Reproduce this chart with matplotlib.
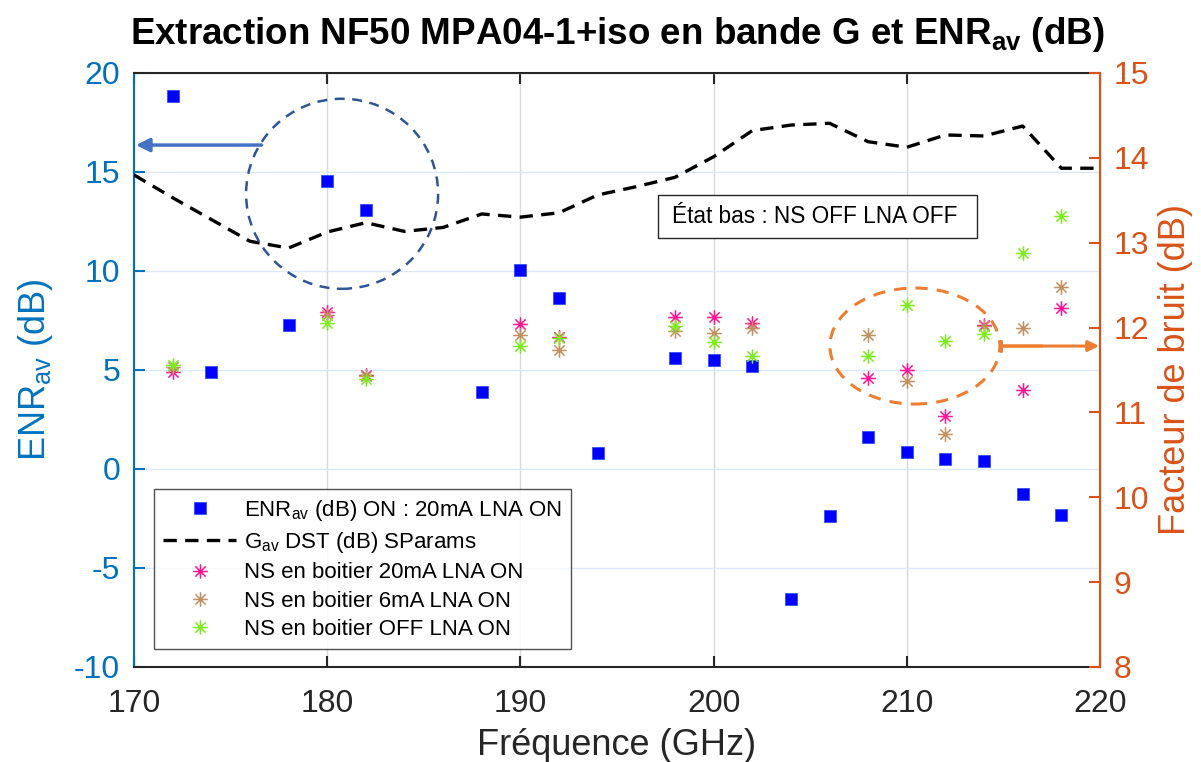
import numpy as np
import matplotlib
matplotlib.use('Agg')
import matplotlib.pyplot as plt
from matplotlib.path import Path
from matplotlib.patches import Ellipse, Rectangle

plt.rcParams['font.family'] = ['Liberation Sans', 'DejaVu Sans']
plt.rcParams['mathtext.fontset'] = 'custom'
plt.rcParams['mathtext.rm'] = 'Liberation Sans'
plt.rcParams['mathtext.it'] = 'Liberation Sans'
plt.rcParams['mathtext.bf'] = 'Liberation Sans:bold'
plt.rcParams['axes.unicode_minus'] = False

# ENR mesuré (axe gauche)
freq_enr = np.array([172, 174, 178, 180, 182, 188, 190, 192, 194, 198, 200, 202,
                     204, 206, 208, 210, 212, 214, 216, 218])
enr = np.array([18.85, 4.91, 7.27, 14.56, 13.08, 3.87, 10.07, 8.65, 0.82, 5.61, 5.52, 5.22,
                -6.55, -2.36, 1.63, 0.86, 0.51, 0.40, -1.26, -2.31])

# Gain disponible DST (axe gauche)
freq_gav = np.arange(170, 221, 2)
gav = np.array([14.85, 13.7, 12.6, 11.5, 11.16, 11.97, 12.44, 12.0, 12.2, 12.88, 12.72, 12.94,
                13.84, 14.26, 14.73, 15.77, 17.09, 17.37, 17.46, 16.53, 16.25, 16.87, 16.82,
                17.32, 15.19, 15.19])

# Facteur de bruit NS en boitier (axe droit)
freq_ns = np.array([172, 180, 182, 190, 192, 198, 200, 202, 208, 210, 212, 214, 216, 218])
nf_20ma = np.array([11.48, 12.18, 11.44, 12.04, 11.89, 12.13, 12.13, 12.05, 11.40, 11.50, 10.96,
                    12.03, 11.26, 12.23])
nf_6ma = np.array([11.54, 12.15, 11.43, 11.91, 11.74, 11.96, 11.94, 11.99, 11.91, 11.37, 10.74,
                   12.02, 12.00, 12.48])
nf_off = np.array([11.56, 12.05, 11.39, 11.78, 11.88, 12.02, 11.83, 11.66, 11.67, 12.27, 11.84,
                   11.92, 12.88, 13.31])

c_left = '#0072BD'
c_right = '#D95319'

# marqueur asterisque style MATLAB (+ et x superposes)
a = np.cos(np.pi / 4)
verts = [(-1, 0), (1, 0), (0, -1), (0, 1), (-a, -a), (a, a), (-a, a), (a, -a)]
codes = [Path.MOVETO, Path.LINETO] * 4
asterisk = Path(verts, codes)

fig = plt.figure(figsize=(12.01, 7.62), dpi=100)
ax = fig.add_axes([0.1116, 0.1247, 0.8043, 0.7795])
ax2 = ax.twinx()

ax.set_xlim(170, 220)
ax.set_ylim(-10, 20)
ax2.set_ylim(8, 15)

ax.grid(True, axis='x', color='#d9d9d9', lw=1)
ax.grid(True, axis='y', color='#dce9f5', lw=1)
ax.set_axisbelow(True)

h1, = ax.plot(freq_enr, enr, 's', color='#0000FF', ms=9, mec='#3050ff', mew=0.6,
              ls='none', label='ENR$_{av}$ (dB) ON : 20mA LNA ON', zorder=3)
h2, = ax.plot(freq_gav, gav, color='black', lw=2.4, dashes=(4, 2.5),
              label='G$_{av}$ DST (dB) SParams', zorder=3)

h3, = ax2.plot(freq_ns, nf_20ma, ls='none', marker=asterisk, ms=10.5, mew=1.1,
               color='#FF1493', label='NS en boitier 20mA LNA ON')
h4, = ax2.plot(freq_ns, nf_6ma, ls='none', marker=asterisk, ms=10.5, mew=1.1,
               color='#C09060', label='NS en boitier 6mA LNA ON')
h5, = ax2.plot(freq_ns, nf_off, ls='none', marker=asterisk, ms=10.5, mew=1.1,
               color='#7CEB1C', label='NS en boitier OFF LNA ON')

# annotations : cercles et fleches
ax.add_patch(Ellipse((180.77, 13.9), 9.94, 9.6, fill=False, ec='#2F5597', lw=1.8,
                     ls=(0, (4, 3)), zorder=4))
ax.annotate('', xy=(170.1, 16.36), xytext=(176.6, 16.36),
            arrowprops=dict(arrowstyle='-|>', color='#4472C4', lw=2.5, mutation_scale=20,
                            shrinkA=0, shrinkB=0), zorder=4)
ax.add_patch(Ellipse((210.42, 6.21), 8.8, 5.86, fill=False, ec='#ED7D31', lw=2.2,
                     ls=(0, (4, 3)), zorder=4))
ax.annotate('', xy=(219.95, 6.21), xytext=(214.9, 6.21),
            arrowprops=dict(arrowstyle='-|>', color='#ED7D31', lw=2.2, mutation_scale=16,
                            shrinkA=0, shrinkB=0), zorder=4)
ax.annotate('', xy=(217.0, 6.21), xytext=(214.9, 6.21),
            arrowprops=dict(arrowstyle='|-|, widthA=0.35, widthB=0.0', color='#ED7D31', lw=2.2,
                            shrinkA=0, shrinkB=0), zorder=4)

# encadre etat bas
ax.add_patch(Rectangle((0.5424, 0.7222), 0.3303, 0.0724, transform=ax.transAxes,
                       fc='white', ec='#262626', lw=1, zorder=5))
ax.text(0.557, 0.7584, 'État bas : NS OFF LNA OFF', transform=ax.transAxes, fontsize=16.3,
        va='center', ha='left', zorder=6)

# axes
for side in ['top', 'bottom']:
    ax.spines[side].set_color('#262626')
    ax.spines[side].set_linewidth(1.5)
ax.spines['left'].set_color(c_left)
ax.spines['left'].set_linewidth(1.5)
ax2.spines['left'].set_visible(False)
ax2.spines['right'].set_color(c_right)
ax2.spines['right'].set_linewidth(1.5)
ax2.spines['top'].set_visible(False)
ax2.spines['bottom'].set_visible(False)

ax.set_xticks(np.arange(170, 221, 10))
ax.set_yticks(np.arange(-10, 21, 5))
ax2.set_yticks(np.arange(8, 16, 1))
ax.tick_params(axis='x', direction='in', top=True, length=8, width=1.5, colors='#262626',
               labelsize=23, pad=16)
ax.tick_params(axis='y', direction='in', length=8, width=1.5, colors=c_left,
               labelsize=23, pad=10)
ax2.tick_params(axis='y', direction='in', length=8, width=1.5, colors=c_right,
                labelsize=23, pad=10)

ax.set_xlabel('Fréquence (GHz)', fontsize=26, color='#262626', labelpad=6)
ax.set_ylabel('ENR$_{av}$ (dB)', fontsize=26, color=c_left, labelpad=14)
ax2.set_ylabel('Facteur de bruit (dB)', fontsize=26, color=c_right, labelpad=6)
ax.set_title('Extraction NF50 MPA04-1+iso en bande G et ENR$_{\\mathbf{av}}$ (dB)',
             fontsize=26.5, fontweight='bold', pad=21)

leg = ax2.legend(handles=[h1, h2, h3, h4, h5], loc='lower left',
                 bbox_to_anchor=(0.0207, 0.0303), borderaxespad=0, fontsize=16,
                 frameon=True, fancybox=False, edgecolor='#262626', handlelength=3.3,
                 handletextpad=0.35, borderpad=0.4, labelspacing=0.33)
leg.get_frame().set_linewidth(1)

fig.savefig('out.png', dpi=100)
